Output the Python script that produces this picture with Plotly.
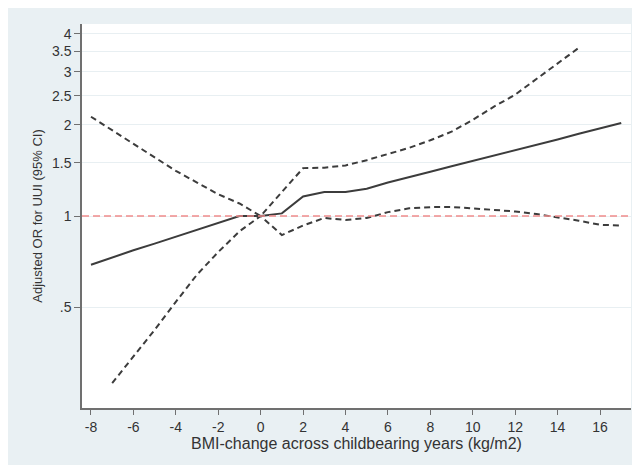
import plotly.graph_objects as go
import math

# Data
x_est = [-8, -7, -6, -5, -4, -3, -2, -1, 0, 1, 2, 3, 4, 5, 6, 7, 8, 9, 10, 11, 12, 13, 14, 15, 16, 17]
or_est = [0.69, 0.73, 0.77, 0.81, 0.855, 0.90, 0.95, 1.0, 1.0, 1.02, 1.16, 1.20, 1.20, 1.23, 1.29, 1.34,
          1.40, 1.46, 1.52, 1.58, 1.65, 1.72, 1.79, 1.87, 1.95, 2.03]

x_ub = [-8, -7, -6, -5, -4, -3, -2, -1, 0, 1, 2, 3, 4, 5, 6, 7, 8, 9, 10, 11, 12, 13, 14, 15]
ci_ub = [2.13, 1.92, 1.74, 1.56, 1.41, 1.29, 1.18, 1.10, 1.0, 1.2, 1.44, 1.445, 1.47, 1.53, 1.60, 1.68,
         1.78, 1.90, 2.08, 2.30, 2.52, 2.84, 3.20, 3.60]

x_lb = [-7, -6, -5, -4, -3, -2, -1, 0, 1, 2, 3, 4, 5, 6, 7, 8, 9, 10, 11, 12, 13, 14, 15, 16, 17]
ci_lb = [0.28, 0.343, 0.42, 0.52, 0.64, 0.76, 0.89, 1.0, 0.865, 0.93, 0.985, 0.97, 0.985, 1.03, 1.06,
         1.07, 1.07, 1.06, 1.05, 1.035, 1.015, 0.99, 0.965, 0.935, 0.93]

y_tickvals = [0.5, 1, 1.5, 2, 2.5, 3, 3.5, 4]
y_ticktext = [".5", "1", "1.5", "2", "2.5", "3", "3.5", "4"]
x_tickvals = [-8, -6, -4, -2, 0, 2, 4, 6, 8, 10, 12, 14, 16]
x_ticktext = ["-8", "-6", "-4", "-2", "0", "2", "4", "6", "8", "10", "12", "14", "16"]
ref_value = 1

# The page body adds an 8px offset; margins compensate for it.
W, H = 640, 467
ml, mr, mt, mb = 74, 17, 16, 67
pw, ph = W - ml - mr, H - mt - mb

def px_x(p):
    return (p - ml) / pw

def px_y(p):
    return (H - mb - p) / ph

fig = go.Figure()

line_col = "#3c3c3c"
fig.add_trace(go.Scatter(x=x_ub, y=ci_ub, mode="lines",
                         line=dict(color=line_col, width=2, dash="6px,4px"), showlegend=False))
fig.add_trace(go.Scatter(x=x_lb, y=ci_lb, mode="lines",
                         line=dict(color=line_col, width=2, dash="6px,4px"), showlegend=False))
fig.add_trace(go.Scatter(x=x_est, y=or_est, mode="lines",
                         line=dict(color=line_col, width=2), showlegend=False))

shapes = [
    dict(type="rect", xref="paper", yref="paper", x0=px_x(-2), x1=px_x(640), y0=px_y(457), y1=px_y(-1),
         fillcolor="#e9f0f3", line=dict(width=0), layer="below"),
    dict(type="rect", xref="paper", yref="paper", x0=0, x1=1, y0=0, y1=1,
         fillcolor="white", line=dict(width=0), layer="below"),
    dict(type="line", xref="paper", yref="y", x0=0, x1=1, y0=ref_value, y1=ref_value,
         line=dict(color="#f08c8c", width=1.3, dash="7px,4px"), layer="above"),
]

lr = 1.4623 / math.log(10)

fig.update_layout(
    width=W, height=H,
    margin=dict(l=ml, r=mr, t=mt, b=mb),
    paper_bgcolor="white", plot_bgcolor="white",
    font=dict(family="Liberation Sans, Arial, sans-serif", size=14, color="#333333"),
    shapes=shapes,
    xaxis=dict(range=[-8.424, 17.46], tickvals=x_tickvals, ticktext=x_ticktext,
               showgrid=False, zeroline=False, automargin=False,
               showline=True, linecolor="#707070", linewidth=1.5,
               ticks="outside", ticklen=5, tickcolor="#707070", tickwidth=1.2,
               tickfont=dict(size=14, color="#333333"),
               title=dict(text="BMI-change across childbearing years (kg/m2)", standoff=1,
                          font=dict(size=16, color="#333333"))),
    yaxis=dict(type="log", range=[-lr, lr], tickvals=y_tickvals, ticktext=y_ticktext,
               showgrid=True, gridcolor="#e8eff2", gridwidth=1, zeroline=False, automargin=False,
               showline=True, linecolor="#707070", linewidth=1.5,
               ticks="outside", ticklen=6, tickcolor="#707070", tickwidth=1.2,
               tickfont=dict(size=14, color="#333333"),
               title=dict(text="Adjusted OR for UUI (95% CI)", standoff=6,
                          font=dict(size=13, color="#333333"))),
)

fig.write_html("out.html")
